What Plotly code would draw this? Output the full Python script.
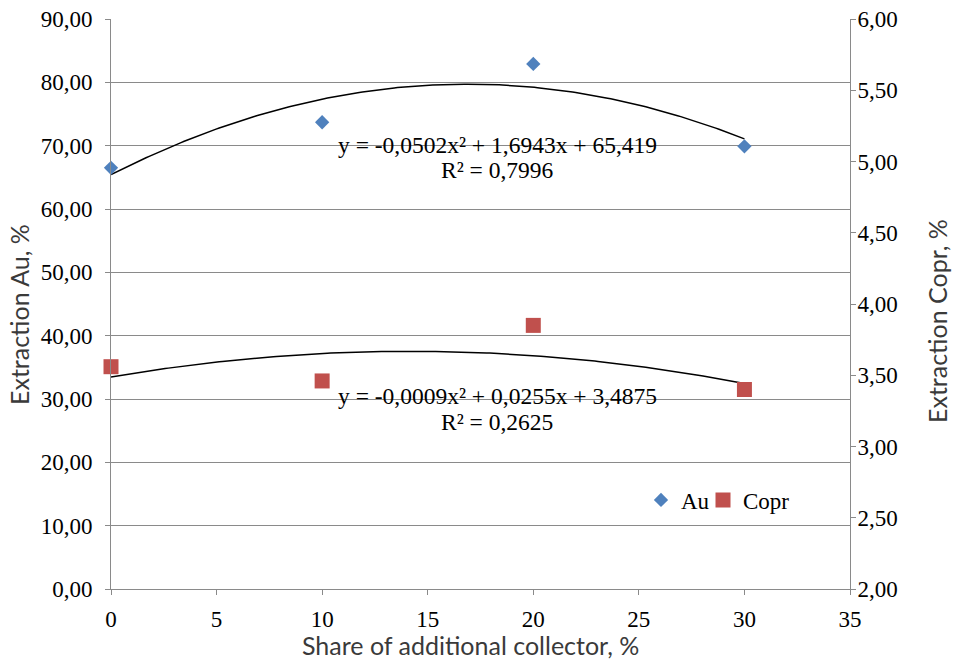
import numpy as np
import plotly.graph_objects as go

share = [0, 10, 20, 30]
au = [66.5, 73.7, 82.9, 69.9]
copr = [3.56, 3.46, 3.85, 3.40]
au_coef = [-0.0502, 1.6943, 65.419]
copr_coef = [-0.0009, 0.0255, 3.4875]
au_eq = "y = -0,0502x² + 1,6943x + 65,419"
au_r2 = "R² = 0,7996"
copr_eq = "y = -0,0009x² + 0,0255x + 3,4875"
copr_r2 = "R² = 0,2625"
x_title = "Share of additional collector, %"
y_title = "Extraction Au, %"
y2_title = "Extraction Copr, %"

serif = "Liberation Serif, Times New Roman, serif"
sans = "Lato, Noto Sans, sans-serif"
grid = "#8a8a8a"
tsize = 23

W, H = 955, 663
L, R, T, B = 111, 105, 19, 74

xt = np.linspace(min(share), max(share), 200)

fig = go.Figure()
fig.add_trace(go.Scatter(x=xt, y=np.polyval(au_coef, xt), mode="lines",
                         line=dict(color="black", width=1.5), showlegend=False, hoverinfo="skip"))
fig.add_trace(go.Scatter(x=xt, y=np.polyval(copr_coef, xt), mode="lines", yaxis="y2",
                         line=dict(color="black", width=1.5), showlegend=False, hoverinfo="skip"))
fig.add_trace(go.Scatter(x=share, y=au, mode="markers", name="Au", legend="legend", cliponaxis=False,
                         marker=dict(symbol="diamond", size=11, color="#4F81BD")))
fig.add_trace(go.Scatter(x=share, y=copr, mode="markers", name="Copr", yaxis="y2", legend="legend2",
                         cliponaxis=False, marker=dict(symbol="square", size=15, color="#C0504D")))

ann = dict(showarrow=False, font=dict(family=serif, size=23.5, color="black"), xanchor="center", yanchor="middle")
fig.add_annotation(x=18.3, y=70.1, text=au_eq, **ann)
fig.add_annotation(x=18.3, y=66.1, text=au_r2, **ann)
fig.add_annotation(x=18.3, y=30.4, text=copr_eq, **ann)
fig.add_annotation(x=18.3, y=26.4, text=copr_r2, **ann)

pw, ph = W - L - R, H - T - B
def px(x):
    return (x - L) / pw
def py(y):
    return (H - B - y) / ph

title_font = dict(family=sans, size=25, color="#3a3a3a")
tann = dict(showarrow=False, xref="paper", yref="paper", xanchor="center", yanchor="middle", font=title_font)
fig.add_annotation(x=px(470), y=py(645), text=x_title, **tann)
fig.add_annotation(x=px(19), y=py(315), text=y_title, textangle=-90, **tann)
fig.add_annotation(x=px(937), y=py(321), text=y2_title, textangle=-90, **tann)

leg = dict(orientation="h", yanchor="middle", xanchor="left", bgcolor="rgba(0,0,0,0)",
           font=dict(family=serif, size=tsize, color="black"), itemwidth=30)

fig.update_layout(
    width=W, height=H,
    margin=dict(l=L, r=R, t=T, b=B),
    paper_bgcolor="white", plot_bgcolor="white",
    separators=", ",
    font=dict(family=serif, size=tsize, color="black"),
    xaxis=dict(range=[0, 35], dtick=5, tick0=0, showgrid=False, zeroline=False,
               showline=True, linecolor=grid, linewidth=1, automargin=False,
               ticks="outside", ticklen=5, tickcolor=grid, ticklabelstandoff=4,
               tickfont=dict(family=serif, size=tsize, color="black")),
    yaxis=dict(range=[0, 90], dtick=10, tickformat=".2f", showgrid=True, gridcolor=grid, gridwidth=1,
               zeroline=False, showline=True, linecolor=grid, linewidth=1, automargin=False,
               ticks="outside", ticklen=5, tickcolor=grid, ticklabelstandoff=8,
               tickfont=dict(family=serif, size=tsize, color="black")),
    yaxis2=dict(range=[2, 6], dtick=0.5, tickformat=".2f", overlaying="y", side="right",
                showgrid=False, zeroline=False, showline=True, linecolor=grid, linewidth=1, automargin=False,
                ticks="outside", ticklen=5, tickcolor=grid, ticklabelstandoff=-3,
                tickfont=dict(family=serif, size=tsize, color="black")),
    legend=dict(x=px(641), y=py(500), **leg),
    legend2=dict(x=px(703), y=py(500), **leg),
    showlegend=True,
)

fig.write_html("out.html")
